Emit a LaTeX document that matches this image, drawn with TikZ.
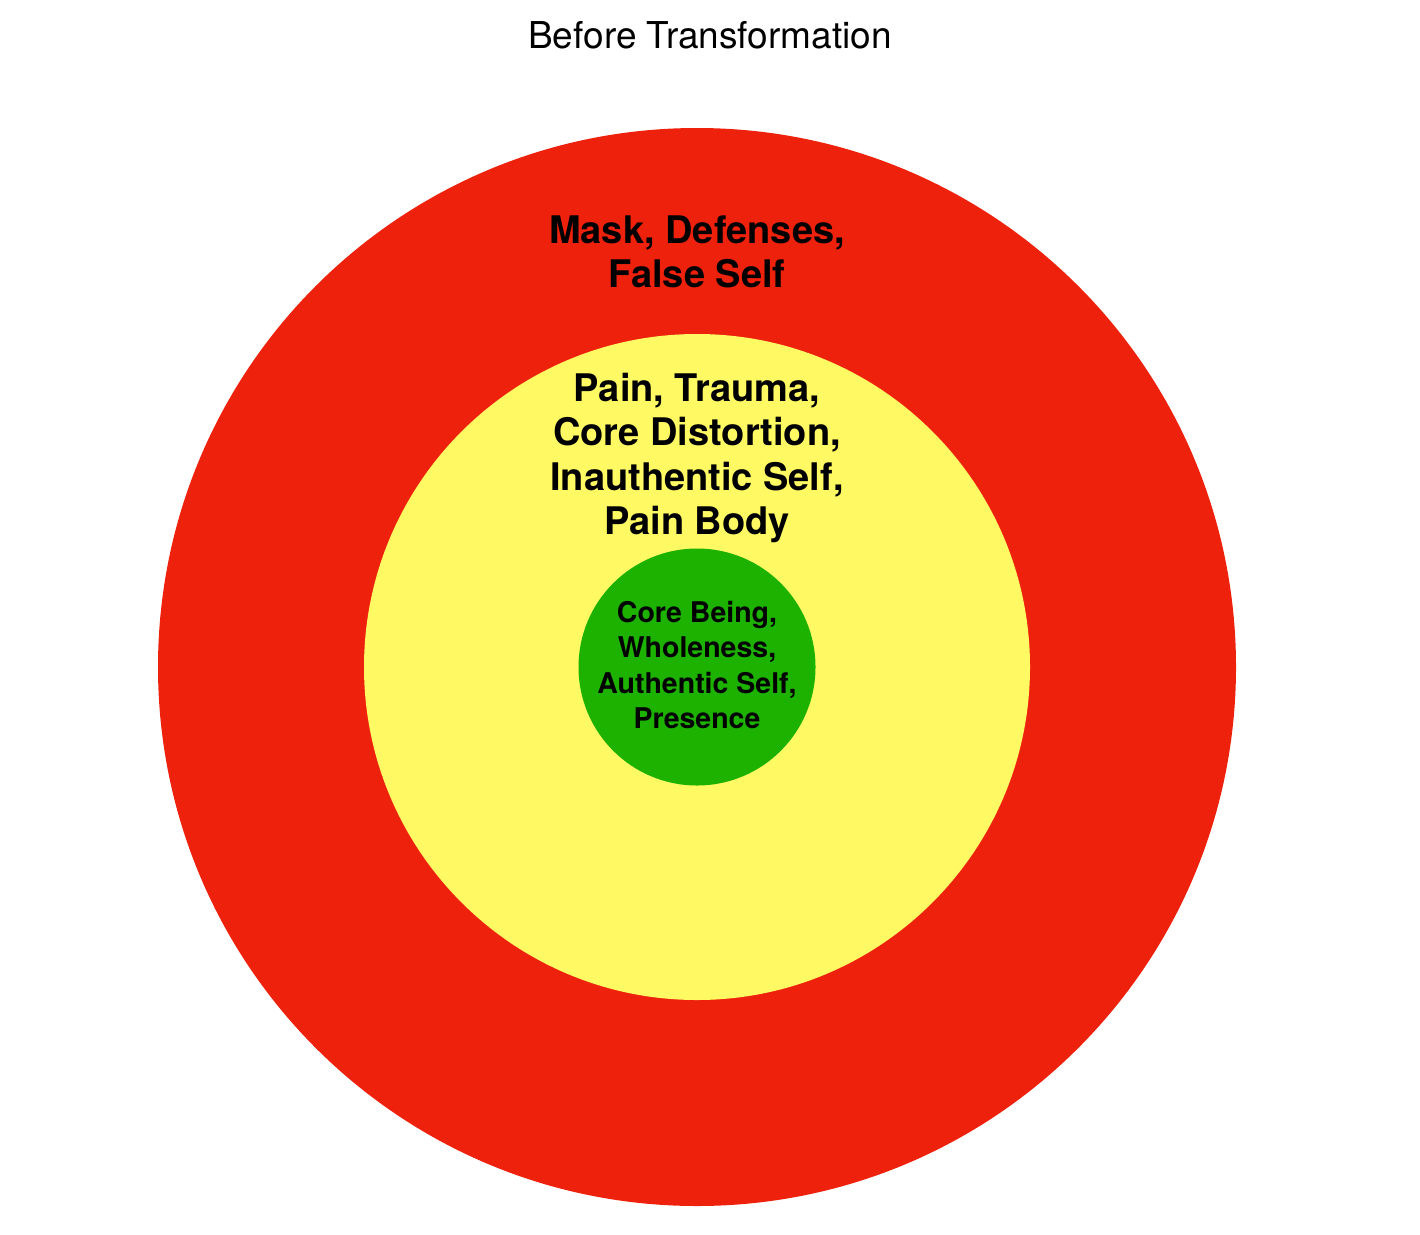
\documentclass[tikz,border=0pt]{standalone}
\usepackage{fontspec}
\setmainfont{TeX Gyre Heros}
\definecolor{ringred}{RGB}{238,34,12}
\definecolor{ringyellow}{RGB}{255,250,100}
\definecolor{ringgreen}{RGB}{29,177,0}
\tikzset{
  ring/.style={circle, inner sep=0pt, draw=none},
  bigtext/.style={align=center, font=\bfseries\fontsize{38}{44.5}\selectfont, inner sep=0pt},
  smalltext/.style={align=center, font=\bfseries\fontsize{28.5}{35.5}\selectfont, inner sep=0pt},
  titletext/.style={font=\fontsize{37}{42}\selectfont, inner sep=0pt}
}
\begin{document}
\begin{tikzpicture}[x=1pt,y=1pt]
\useasboundingbox (0,0) rectangle (1420,-1234);
\node[ring, fill=ringred, minimum size=1078pt] (outer) at (697,-667) {};
\node[ring, fill=ringyellow, minimum size=666pt] (middle) at (697,-667) {};
\node[ring, fill=ringgreen, minimum size=237pt] (inner) at (697,-667) {};
\node[titletext] (title) at (710,-35) {Before Transformation};
\node[bigtext] (masktext) at (697,-252) {Mask, Defenses,\\False Self};
\node[bigtext] (paintext) at (697,-458) {Pain, Trauma,\\Core Distortion,\\Inauthentic Self,\\Pain Body};
\node[smalltext] (coretext) at (697,-665) {Core Being,\\Wholeness,\\Authentic Self,\\Presence};
\end{tikzpicture}
\end{document}
